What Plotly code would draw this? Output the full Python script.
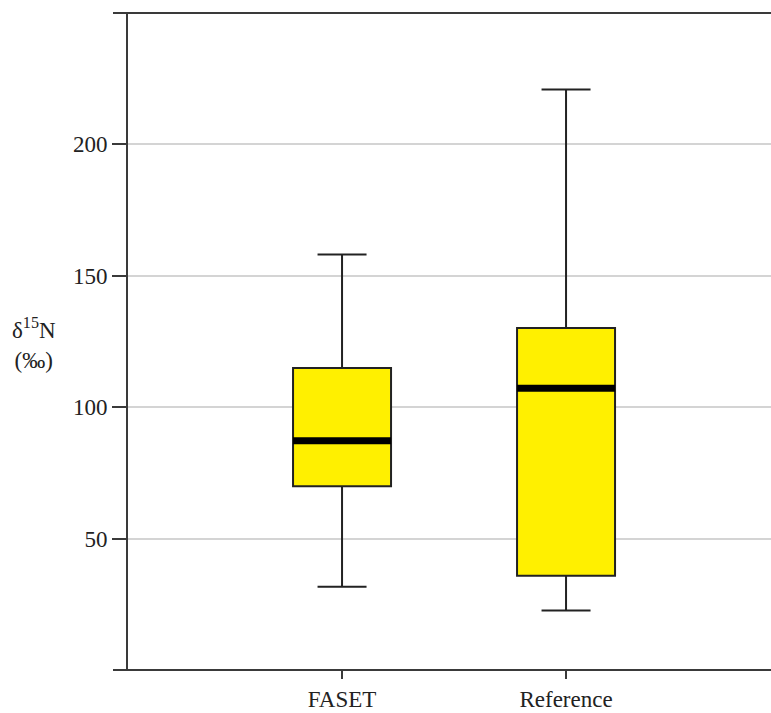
import plotly.graph_objects as go

# ---- data ----
categories = ["FASET", "Reference"]
positions = [0, 1]
lower_whisker = [31.7, 22.6]
q1_values = [69.9, 35.9]
medians = [87.2, 107.2]
q3_values = [114.9, 130.1]
upper_whisker = [158.1, 220.9]
y_ticks = [50, 100, 150, 200]

BOX_W = 0.4375
FONT = "Liberation Serif"

fig = go.Figure()

for i, cat in enumerate(categories):
    fig.add_trace(go.Box(
        x=[positions[i]],
        q1=[q1_values[i]], median=[medians[i]], q3=[q3_values[i]],
        lowerfence=[lower_whisker[i]], upperfence=[upper_whisker[i]],
        width=BOX_W, whiskerwidth=0.5,
        fillcolor="#FFF000",
        line=dict(color="#222222", width=2),
        boxpoints=False, name=cat, showlegend=False, hoverinfo="skip",
    ))
    fig.add_trace(go.Scatter(
        x=[positions[i] - BOX_W / 2, positions[i] + BOX_W / 2],
        y=[medians[i], medians[i]],
        mode="lines", line=dict(color="black", width=7),
        showlegend=False, hoverinfo="skip",
    ))

W, H = 771, 713
L, R, T, B = 127, 0, 13, 43
plot_w = W - L - R
ext = 14 / plot_w

line_style = dict(color="#3a3a3a", width=2)
fig.add_shape(type="line", xref="paper", yref="paper", x0=-ext, x1=1, y0=1, y1=1, line=line_style)
fig.add_shape(type="line", xref="paper", yref="paper", x0=-ext, x1=1, y0=0, y1=0, line=line_style)
fig.add_shape(type="line", xref="paper", yref="paper", x0=0, x1=0, y0=0, y1=1, line=line_style)

fig.add_annotation(
    text="δ<sup>15</sup>N<br>(‰)", xref="paper", yref="paper",
    x=(34 - L) / plot_w, y=0.497, xanchor="center", yanchor="middle",
    showarrow=False, font=dict(family=FONT, size=23, color="#222222"), align="center",
)

fig.update_layout(
    width=W, height=H,
    margin=dict(l=L, r=R, t=T, b=B, autoexpand=False),
    paper_bgcolor="white", plot_bgcolor="white",
    font=dict(family=FONT, size=24, color="#222222"),
    xaxis=dict(
        range=[-0.96, 1.915], tickvals=positions, ticktext=categories,
        showgrid=False, zeroline=False, showline=False, automargin=False,
        ticks="outside", ticklen=8, tickwidth=2, tickcolor="#3a3a3a",
        tickfont=dict(family=FONT, size=23, color="#222222"),
    ),
    yaxis=dict(
        range=[0, 250], tickvals=y_ticks, automargin=False,
        showgrid=True, gridcolor="#d4d4d4", gridwidth=1.5,
        zeroline=False, showline=False,
        ticks="outside", ticklen=14, tickwidth=2, tickcolor="#3a3a3a",
        tickfont=dict(family=FONT, size=23, color="#222222"),
    ),
)

fig.write_html("out.html")
